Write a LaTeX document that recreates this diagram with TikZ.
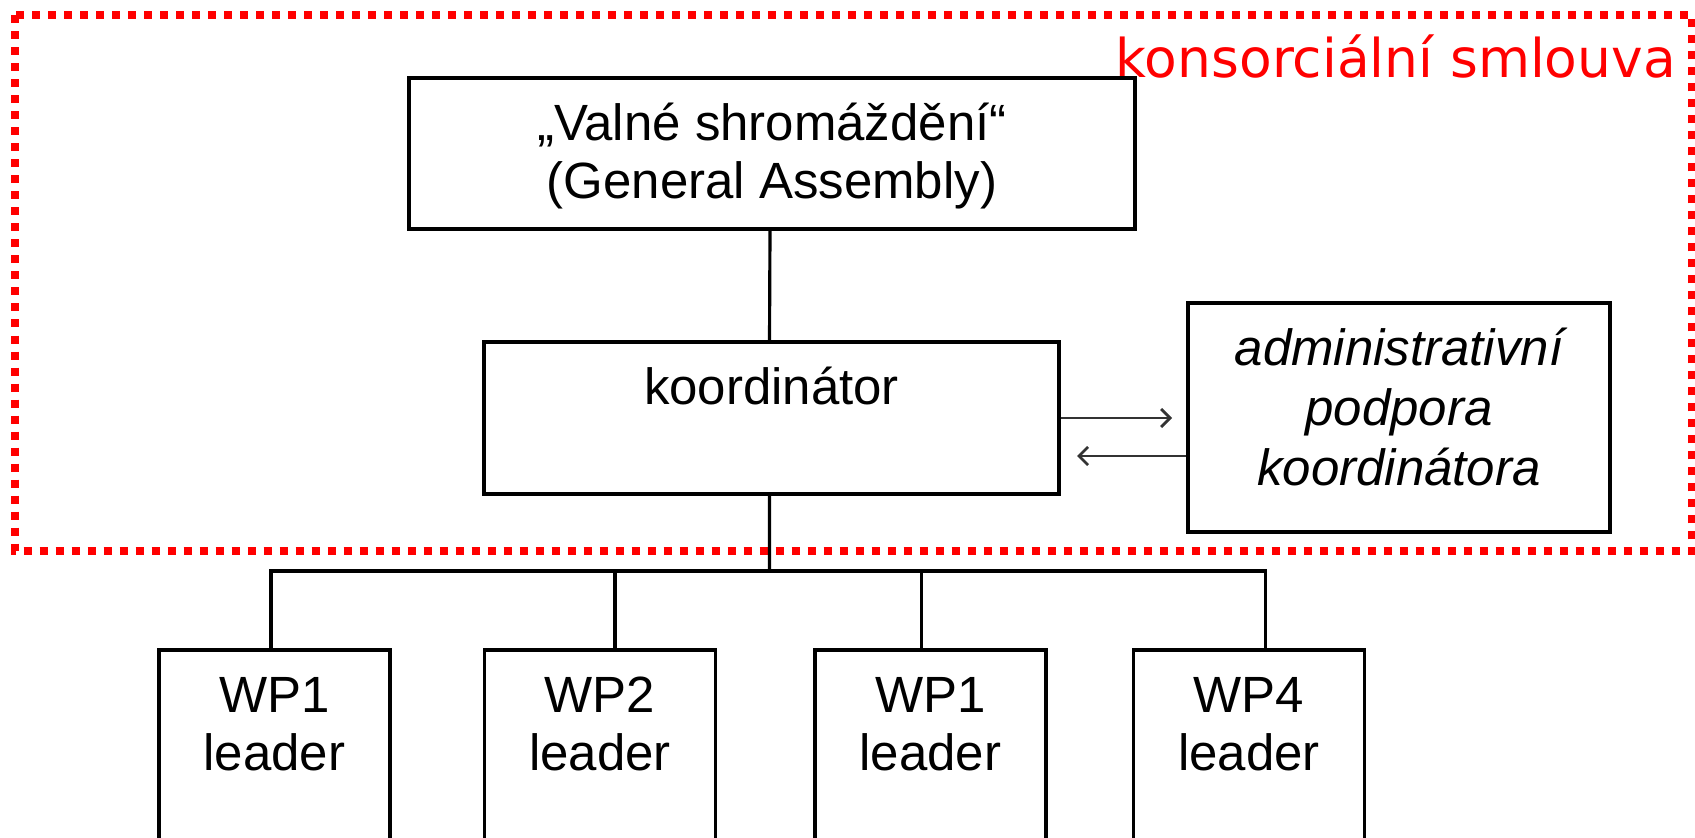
\documentclass[tikz,border=0pt]{standalone}
\usepackage{fontspec}
\setmainfont{Liberation Sans}
\newfontfamily\smlouvafont{DejaVu Sans}
\usetikzlibrary{arrows.meta,positioning}

\begin{document}
\begin{tikzpicture}[>={Straight Barb[length=0.9mm,width=1.8mm]},
		box/.style={draw,line width=0.9pt,inner sep=0pt},
		txt/.style={anchor=base,align=center,font=\fontsize{14.5}{16.5}\selectfont},
		link/.style={line width=0.9pt},
		thin link/.style={black!80,line width=0.8pt}]
	\useasboundingbox (0,0) rectangle (16.95,-8.38);
	\clip (0,0) rectangle (16.95,-8.38);
	\draw[red,line width=0.08cm,dash pattern=on 0.08cm off 0.08cm] (0.15,-0.155) rectangle (16.92,-5.51);
	\node[anchor=base east,inner sep=0pt,red,font=\smlouvafont\fontsize{15.2}{18}\selectfont] (smlouva) at (16.765,-0.78) {konsorciální smlouva};
	\node[box,minimum width=7.26cm,minimum height=1.51cm] (ga) at (7.72,-1.535) {};
	\node[box,minimum width=5.75cm,minimum height=1.52cm] (koord) at (7.715,-4.18) {};
	\node[box,minimum width=4.22cm,minimum height=2.29cm] (admin) at (13.99,-4.175) {};
	\node[box,minimum width=2.31cm,minimum height=2.5cm] (wpa) at (2.745,-7.75) {};
	\node[box,minimum width=2.31cm,minimum height=2.5cm] (wpb) at (6.00,-7.75) {};
	\node[box,minimum width=2.31cm,minimum height=2.5cm] (wpc) at (9.305,-7.75) {};
	\node[box,minimum width=2.31cm,minimum height=2.5cm] (wpd) at (12.49,-7.75) {};
	\node[txt] (ga text) at ([yshift=-1.22cm]ga.north) {„Valné shromáždění“\\(General Assembly)};
	\node[txt] (koord text) at ([yshift=-0.64cm]koord.north) {koordinátor};
	\node[txt,font=\fontsize{14.5}{17.1}\selectfont\itshape] (admin text) at ([yshift=-1.84cm]admin.north) {administrativní\\podpora\\koordinátora};
	\node[txt] (wpa text) at ([yshift=-1.22cm]wpa.north) {WP1\\leader};
	\node[txt] (wpb text) at ([yshift=-1.22cm]wpb.north) {WP2\\leader};
	\node[txt] (wpc text) at ([yshift=-1.22cm]wpc.north) {WP1\\leader};
	\node[txt] (wpd text) at ([yshift=-1.22cm]wpd.north) {WP4\\leader};
	\coordinate (to admin) at (11.72,-4.18);
	\coordinate (to koord) at (10.77,-4.56);
	\coordinate (bus) at (7.695,-5.71);
	\draw[->,thin link] (koord.east) -- (to admin);
	\draw[->,thin link] ([yshift=-0.385cm]admin.west) -- (to koord);
	\draw[link] ([xshift=-0.02cm]ga.south) -- ([xshift=-0.02cm]koord.north);
	\draw[link] ([xshift=-0.02cm]koord.south) -- (bus);
	\foreach \n/\s in {wpa/-0.035,wpb/0.15,wpc/-0.09,wpd/0.165}
		\draw[link] (bus) -| ([xshift=\s cm]\n.north);
\end{tikzpicture}
\end{document}
